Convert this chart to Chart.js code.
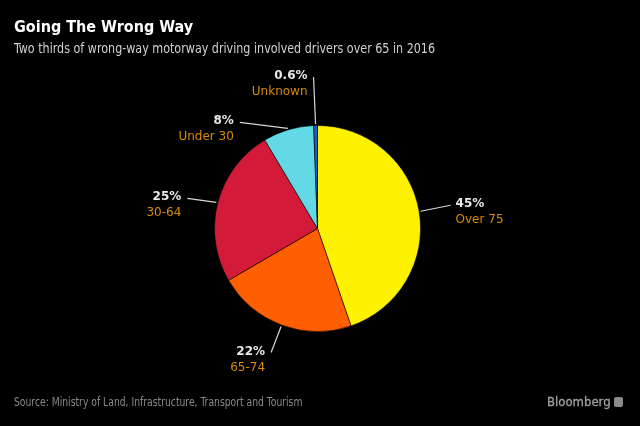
<!DOCTYPE html>
<html>
<head>
<meta charset="utf-8">
<script src="https://cdn.jsdelivr.net/npm/chart.js@4.4.1/dist/chart.umd.min.js"></script>
<style>
  html, body { margin: 0; padding: 0; background: #000; }
  #wrap { position: relative; width: 640px; height: 426px; background: #000; overflow: hidden; }
  canvas { position: absolute; left: 0; top: 0; }
  .txt { position: absolute; white-space: nowrap; }
  #title { left: 14px; top: 17px; font: bold 16px "DejaVu Sans Condensed", "DejaVu Sans", sans-serif; color: #fff; }
  #subtitle { left: 14px; top: 40px; font: 14px "DejaVu Sans Condensed", sans-serif; color: #d0d0d0; transform: scaleX(0.885); transform-origin: 0 0; }
  #source { left: 14px; top: 395px; font: 12px "DejaVu Sans Condensed", sans-serif; color: #8a8a8a; transform: scaleX(0.855); transform-origin: 0 0; }
  #brand { left: 547px; top: 394px; font: 13px "DejaVu Sans Condensed", "DejaVu Sans", sans-serif; color: #a0a0a0; -webkit-text-stroke: 0.3px #a0a0a0; }
  #icon { position: absolute; left: 614px; top: 397px; width: 9px; height: 10px; background: #8a8a8a; border-radius: 2px; }
</style>
</head>
<body>
<div id="wrap">
  <canvas id="c" width="640" height="426"></canvas>
  <div class="txt" id="title">Going The Wrong Way</div>
  <div class="txt" id="subtitle">Two thirds of wrong-way motorway driving involved drivers over 65 in 2016</div>
  <div class="txt" id="source">Source: Ministry of Land, Infrastructure, Transport and Tourism</div>
  <div class="txt" id="brand">Bloomberg</div>
  <div id="icon"></div>
</div>
<script>
const categories = ['Over 75', '65-74', '30-64', 'Under 30', 'Unknown'];
const shares = [45, 22, 25, 8, 0.6];
const shareLabels = ['45%', '22%', '25%', '8%', '0.6%'];

const sliceColors = ['#FFF200', '#FF5F00', '#D31A38', '#62D9E4', '#1F5FBF'];
// leader line offsets (from slice edge) and label side
const leaderOffsets = [[30, -6], [-10, 26], [-29, -4], [-48, -6], [-2, -47]];
const labelSide = ['right', 'left', 'left', 'left', 'left'];

const leaderPlugin = {
  id: 'leaders',
  afterDatasetsDraw(chart) {
    const ctx = chart.ctx;
    const meta = chart.getDatasetMeta(0);
    meta.data.forEach((arc, i) => {
      const p = arc.getProps(['x', 'y', 'startAngle', 'endAngle', 'outerRadius'], true);
      const mid = (p.startAngle + p.endAngle) / 2;
      const sx = p.x + Math.cos(mid) * (p.outerRadius + 1.5);
      const sy = p.y + Math.sin(mid) * (p.outerRadius + 1.5);
      const ex = sx + leaderOffsets[i][0];
      const ey = sy + leaderOffsets[i][1];
      ctx.save();
      ctx.strokeStyle = '#d8d8d8';
      ctx.lineWidth = 1.2;
      ctx.beginPath();
      ctx.moveTo(sx, sy);
      ctx.lineTo(ex, ey);
      ctx.stroke();
      const right = labelSide[i] === 'right';
      const tx = right ? ex + 5 : ex - 6;
      ctx.textAlign = right ? 'left' : 'right';
      ctx.textBaseline = 'middle';
      ctx.fillStyle = '#e8e8e8';
      ctx.font = 'bold 12px "DejaVu Sans", sans-serif';
      ctx.fillText(shareLabels[i], tx, ey - 1);
      ctx.fillStyle = '#D98A00';
      ctx.font = '12px "DejaVu Sans", sans-serif';
      ctx.fillText(categories[i], tx, ey + 15);
      ctx.restore();
    });
  }
};

new Chart(document.getElementById('c'), {
  type: 'pie',
  data: {
    labels: categories,
    datasets: [{
      data: shares,
      backgroundColor: sliceColors,
      borderColor: 'rgba(0,0,0,0.55)',
      borderWidth: 1,
      hoverOffset: 0
    }]
  },
  options: {
    responsive: false,
    animation: false,
    events: [],
    layout: { padding: { left: 214, right: 219, top: 125, bottom: 94 } },
    plugins: {
      legend: { display: false },
      tooltip: { enabled: false },
      title: { display: false }
    }
  },
  plugins: [leaderPlugin]
});
</script>
</body>
</html>
